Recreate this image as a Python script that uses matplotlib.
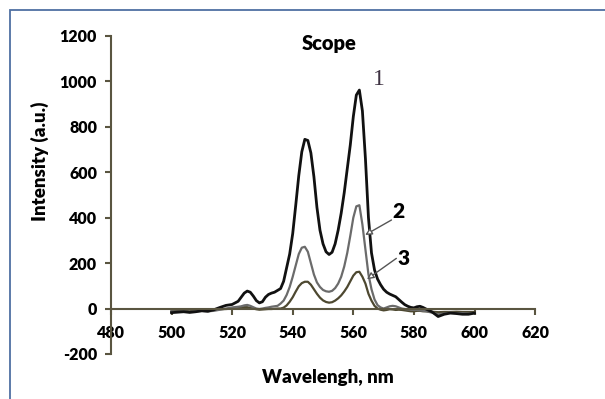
import matplotlib
matplotlib.use("Agg")
import matplotlib.pyplot as plt
from matplotlib.patches import Rectangle

plt.rcParams['font.family'] = ['Lato', 'DejaVu Sans']
plt.rcParams['axes.unicode_minus'] = False

# wavelength grid (nm), shared by the three spectra
wavelength = [500, 502, 504, 506, 508, 510, 512, 514, 516, 518, 520,
              522,
              523, 524, 525, 526, 527, 528, 529, 530, 531, 532, 533, 534, 535,
              536, 537, 538, 539, 540, 541, 542, 543, 544, 545, 546, 547, 548, 549,
              550, 551, 552, 553, 554, 555, 556, 557, 558, 559, 560, 561, 562,
              563, 564, 565, 566, 567, 568, 569, 570, 571, 572, 573, 574, 575, 576,
              577, 578, 579, 580, 581, 582, 583, 584,
              586, 588, 590, 592, 594, 596, 598, 600]

# spectrum 1 (black)
intensity_1 = [-18, -16, -14, -17, -14, -10, -12, -5, 5, 14, 18,
               32,
               50, 68, 77, 72, 55, 35, 25, 30, 50, 62, 68, 72, 80,
               88, 120, 180, 240, 330, 455, 585, 690, 745, 740, 685, 580, 445, 345,
               285, 250, 238, 248, 285, 345, 420, 510, 615, 720, 845, 940, 962,
               870, 660, 400, 245, 170, 130, 105, 85, 72, 64, 58, 52, 40, 28,
               17, 10, 5, 3, 8, 10, 5, -2,
               -15, -35, -25, -20, -22, -25, -25, -20]

# spectrum 2 (grey)
intensity_2 = [-12, -14, -12, -15, -12, -10, -12, -10, -5, 0, 5,
               8,
               10, 14, 16, 12, 6, 0, -2, 0, 3, 5, 8, 10, 12,
               22, 35, 60, 95, 140, 190, 240, 268, 272, 250, 200, 150, 115, 95,
               82, 76, 74, 78, 90, 110, 140, 185, 245, 320, 400, 450, 455,
               370, 260, 150, 85, 40, 15, 5, 0, 5, 10, 12, 10, 5, 0,
               -2, -4, -5, -6, -6, -8, -10, -12,
               -18, -25, -22, -18, -20, -20, -22, -20]

# spectrum 3 (olive)
intensity_3 = [-12, -10, -10, -12, -8, -8, -6, -5, -3, -2, 0,
               2,
               4, 6, 6, 3, 0, -3, -5, -4, -3, -2, -2, -1, 0,
               0, 4, 14, 30, 50, 75, 98, 112, 118, 118, 105, 85, 65, 48,
               36, 29, 26, 28, 35, 45, 58, 75, 95, 120, 145, 160, 162,
               140, 110, 65, 35, 12, 0, -5, -8, -6, -3, -4, -6, -5, -6,
               -8, -10, -12, -12, -10, -10, -12, -12,
               -14, -16, -15, -15, -14, -15, -15, -15]

x_ticks = [480, 500, 520, 540, 560, 580, 600, 620]
y_ticks = [-200, 0, 200, 400, 600, 800, 1000, 1200]

axis_color = '#5a5540'
weight = 'heavy'

fig = plt.figure(figsize=(6.05, 3.99), dpi=100)
# blue frame around the chart area
fig.patches.append(Rectangle((10 / 605, -0.2), 1.2, 1.2 - 10 / 399,
                             transform=fig.transFigure, fill=False,
                             edgecolor='#4f70a3', linewidth=1.3))

ax = fig.add_axes([0.1833, 0.1128, 0.7012, 0.797])
ax.plot(wavelength, intensity_3, color='#4d4830', linewidth=1.6, solid_joinstyle='round')
ax.plot(wavelength, intensity_2, color='#6b6b6b', linewidth=1.6, solid_joinstyle='round')
ax.plot(wavelength, intensity_1, color='#111111', linewidth=2.0, solid_joinstyle='round')

ax.set_xlim(480, 620)
ax.set_ylim(-200, 1200)
ax.set_xticks(x_ticks)
ax.set_yticks(y_ticks)

ax.spines['top'].set_visible(False)
ax.spines['right'].set_visible(False)
ax.spines['bottom'].set_position(('data', 0))
for s in ('left', 'bottom'):
    ax.spines[s].set_color(axis_color)
    ax.spines[s].set_linewidth(1.5)
ax.tick_params(axis='x', direction='out', length=4, width=1.5, color=axis_color,
               pad=8, labelsize=11.5)
ax.tick_params(axis='y', direction='out', length=4, width=1.5, color=axis_color,
               pad=6, labelsize=11.5)
for lab in ax.get_xticklabels() + ax.get_yticklabels():
    lab.set_fontweight(weight)

ax.text(552, 1165, 'Scope', ha='center', va='center', fontsize=14.5, fontweight=weight)
fig.text(40 / 605, 1 - 161 / 399, 'Intensity (a.u.)', rotation=90, ha='center',
         va='center', fontsize=13.5, fontweight=weight)
fig.text(328 / 605, 1 - 377 / 399, 'Wavelengh, nm', ha='center', va='center',
         fontsize=13.5, fontweight=weight)

ax.text(568.5, 1010, '1', ha='center', va='center', fontsize=17,
        family='Liberation Serif', color='#3e3242')
ax.text(574.8, 429, '2', ha='center', va='center', fontsize=15, fontweight=weight)
ax.text(576.7, 222, '3', ha='center', va='center', fontsize=15, fontweight=weight)

arrow = dict(arrowstyle='-|>', fc='white', ec='#555555', lw=1.0, mutation_scale=10,
             shrinkA=0, shrinkB=0)
ax.annotate('', xy=(563.9, 324), xytext=(572.6, 390), arrowprops=arrow)
ax.annotate('', xy=(564.5, 129), xytext=(574.2, 221), arrowprops=arrow)

fig.savefig('out.png', dpi=100)
